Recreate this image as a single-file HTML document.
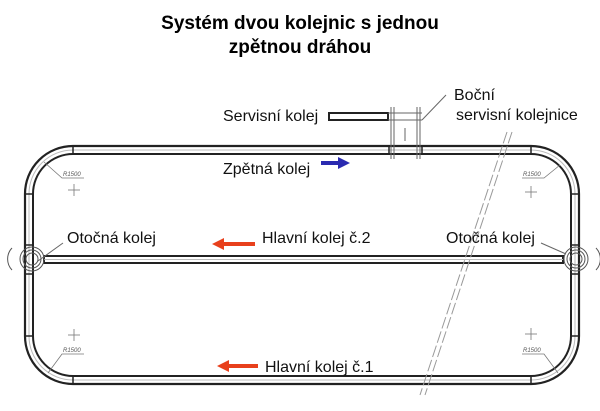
<!DOCTYPE html>
<html><head><meta charset="utf-8"><style>
body{margin:0;background:#fff;width:600px;height:406px;overflow:hidden;font-family:"Liberation Sans",sans-serif}
</style></head><body>
<svg width="600" height="406" xmlns="http://www.w3.org/2000/svg" font-family="Liberation Sans, sans-serif">
<text x="300" y="29" text-anchor="middle" font-size="19" font-weight="bold">Systém dvou kolejnic s jednou</text>
<text x="300" y="53" text-anchor="middle" font-size="19" font-weight="bold">zpětnou dráhou</text>
<g fill="none" stroke="#222">
<rect x="25" y="146" width="554" height="238" rx="48" stroke-width="2.2"/>
<rect x="33" y="154" width="538" height="222" rx="40" stroke-width="2"/>
<rect x="29" y="150" width="546" height="230" rx="44" stroke="#bbb" stroke-width="1"/>
<g stroke-width="1.5">
<line x1="73" y1="146" x2="73" y2="154"/><line x1="531" y1="146" x2="531" y2="154"/>
<line x1="73" y1="376" x2="73" y2="384"/><line x1="531" y1="376" x2="531" y2="384"/>
<line x1="25" y1="194" x2="33" y2="194"/><line x1="25" y1="336" x2="33" y2="336"/>
<line x1="571" y1="194" x2="579" y2="194"/><line x1="571" y1="336" x2="579" y2="336"/>
<line x1="25" y1="245" x2="33" y2="245"/><line x1="25" y1="274" x2="33" y2="274"/>
<line x1="571" y1="245" x2="579" y2="245"/><line x1="571" y1="274" x2="579" y2="274"/>
<line x1="389" y1="146" x2="389" y2="154"/><line x1="422" y1="146" x2="422" y2="154"/>
</g>
<rect x="44" y="256" width="519" height="7" stroke-width="2"/>
<line x1="44" y1="259.5" x2="563" y2="259.5" stroke="#bbb" stroke-width="1"/>
<g stroke="#555" stroke-width="1">
<circle cx="32" cy="259" r="12"/><circle cx="32" cy="259" r="9"/><circle cx="32" cy="259" r="6"/>
<circle cx="576" cy="259" r="12"/><circle cx="576" cy="259" r="9"/><circle cx="576" cy="259" r="6"/>
<path d="M12 248 A16 16 0 0 0 12 270"/><path d="M596 248 A16 16 0 0 1 596 270"/>
</g>
<rect x="329" y="113" width="59" height="7" stroke-width="2"/>
<g stroke="#666" stroke-width="1">
<line x1="391" y1="107" x2="391" y2="159"/><line x1="394" y1="107" x2="394" y2="159"/>
<line x1="417" y1="107" x2="417" y2="159"/><line x1="420" y1="107" x2="420" y2="159"/>
<line x1="388" y1="113" x2="422" y2="113"/><line x1="388" y1="120" x2="422" y2="120"/>
<line x1="405" y1="128" x2="405" y2="141"/>
<line x1="422" y1="120" x2="446" y2="95"/>
<line x1="38" y1="261" x2="63" y2="243"/><line x1="566" y1="254" x2="541" y2="243"/>
</g>
<g stroke="#999" stroke-width="1" stroke-dasharray="12 3">
<line x1="507" y1="132" x2="420" y2="395"/><line x1="512" y1="132" x2="425" y2="395"/>
</g>
<g stroke="#777" stroke-width="0.8">
<polyline points="44,162 62,178 84,178"/><line x1="68" y1="190" x2="80" y2="190"/><line x1="74" y1="184" x2="74" y2="196"/>
<polyline points="560,165 544,178 522,178"/><line x1="525" y1="192" x2="537" y2="192"/><line x1="531" y1="186" x2="531" y2="198"/>
<polyline points="48,373 62,354 84,354"/><line x1="68" y1="335" x2="80" y2="335"/><line x1="74" y1="329" x2="74" y2="341"/>
<polyline points="558,373 544,354 522,354"/><line x1="525" y1="334" x2="537" y2="334"/><line x1="531" y1="328" x2="531" y2="340"/>
</g>
</g>
<g font-size="6" font-style="italic" fill="#555">
<text x="63" y="176">R1500</text><text x="523" y="176">R1500</text>
<text x="63" y="352">R1500</text><text x="523" y="352">R1500</text>
</g>
<path d="M321 161 H338 V157 L350 163 L338 169 V165 H321 Z" fill="#2a2ab0"/>
<path d="M255 242 H224 V238 L212 244 L224 250 V246 H255 Z" fill="#e8401c"/>
<path d="M258 364 H229 V360 L217 366 L229 372 V368 H258 Z" fill="#e8401c"/>
<g font-size="16" fill="#111">
<text x="223" y="121">Servisní kolej</text>
<text x="454" y="100">Boční</text>
<text x="456" y="120">servisní kolejnice</text>
<text x="223" y="174">Zpětná kolej</text>
<text x="67" y="243">Otočná kolej</text>
<text x="262" y="243">Hlavní kolej č.2</text>
<text x="446" y="243">Otočná kolej</text>
<text x="265" y="372">Hlavní kolej č.1</text>
</g>
</svg>
</body></html>
